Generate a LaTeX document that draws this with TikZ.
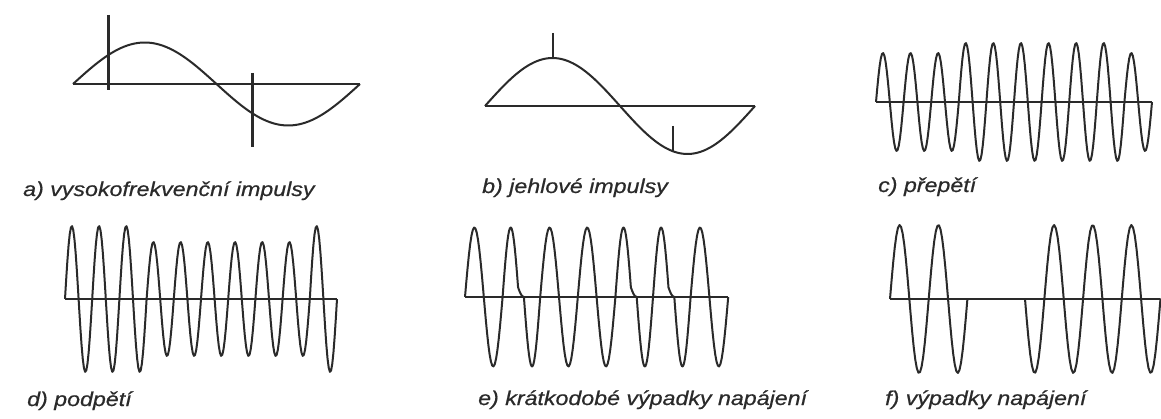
\documentclass[tikz,border=0pt]{standalone}
\usepackage{fontspec}
\usepackage{tikz}
\newfontfamily\capfont[FakeStretch=1.16,FakeBold=0.6]{Liberation Sans}
\definecolor{ink}{HTML}{2A2A2A}
\definecolor{paper}{HTML}{FFFFFF}

\begin{document}
\begin{tikzpicture}[x=1pt,y=-1pt,line join=round,
  every node/.style={font={\capfont\itshape\fontsize{20}{24}\selectfont},text=ink,inner sep=0pt,anchor=base west},
  wave/.style={draw=ink,line width=2pt},
  axisline/.style={draw=ink,line width=2.2pt},
  spike/.style={draw=ink,line width=3pt}]
  \fill[paper] (0,0) rectangle (1161,419); \useasboundingbox (0,0) rectangle (1161,419);
  % a)
  \draw[axisline] (73,84)--(360,84);
  \draw[wave] plot[domain=73:360,samples=90] (\x,{84-41.5*sin((\x-73)/287*360)});
  \draw[spike] (108,15)--(108,90); \draw[spike] (252,73)--(252,147);
  \node (capA) at (23,196) {a) vysokofrekvenční impulsy};
  % b)
  \draw[axisline] (485,106)--(755,106);
  \draw[wave] plot[domain=485:755,samples=90] (\x,{106-48*sin((\x-485)/270*360)});
  \draw[wave] (553,33)--(553,58); \draw[wave] (673,126)--(673,151);
  \node (capB) at (482,193) {b) jehlové impulsy};
  % c)
  \draw[axisline] (876,102)--(1152,102);
  \foreach \i/\a [evaluate=\i as \s using 876+\i*27.6, evaluate=\i as \e using 876+(\i+1)*27.6] in {0/49,1/49,2/49,3/59,4/59,5/59,6/59,7/59,8/59,9/49}
    \draw[wave] plot[domain=\s:\e,samples=24] (\x,{102-\a*sin((\x-\s)/27.6*360)});
  \node (capC) at (878,192) {c) přepětí};
  % d)
  \draw[axisline] (65,299)--(337,299);
  \foreach \i/\a [evaluate=\i as \s using 65+\i*27.2, evaluate=\i as \e using 65+(\i+1)*27.2] in {0/73,1/73,2/73,3/57,4/57,5/57,6/57,7/57,8/57,9/73}
    \draw[wave] plot[domain=\s:\e,samples=24] (\x,{299-\a*sin((\x-\s)/27.2*360)});
  \node (capD) at (27,406) {d) podpětí};
  % e)
  \draw[axisline] (465,297)--(728,297);
  \foreach \i [evaluate=\i as \s using 465+\i*37.6, evaluate=\i as \e using 465+(\i+1)*37.6] in {0,2,3,6}
    \draw[wave] plot[domain=\s:\e,samples=30] (\x,{297-69.5*sin((\x-\s)/37.6*360)});
  \foreach \i [evaluate=\i as \s using 465+\i*37.6, evaluate=\i as \k using 465+\i*37.6+15.46,
               evaluate=\i as \m using 465+\i*37.6+21.3, evaluate=\i as \e using 465+(\i+1)*37.6] in {1,4,5}
    \draw[wave] plot[domain=\s:\k,samples=20] (\x,{297-69.5*sin((\x-\s)/15.46*172)})
      .. controls ({\k+2},293) and ({\m-2.5},296.5) .. (\m,297)
      -- plot[domain=\m:\e,samples=20] (\x,{297+69.5*sin((\x-\m)/16.3*180)});
  \node (capE) at (478,405) {e) krátkodobé výpadky napájení};
  % f)
  \draw[axisline] (890,299)--(1160,299);
  \draw[wave] plot[domain=890:967.4,samples=50] (\x,{299-74*sin((\x-890)/38.7*360)});
  \draw[wave] plot[domain=1025:1160.5,samples=80] (\x,{299+74*sin((\x-1025)/38.7*360)});
  \node (capF) at (885,405) {f) výpadky napájení};
\end{tikzpicture}
\end{document}
